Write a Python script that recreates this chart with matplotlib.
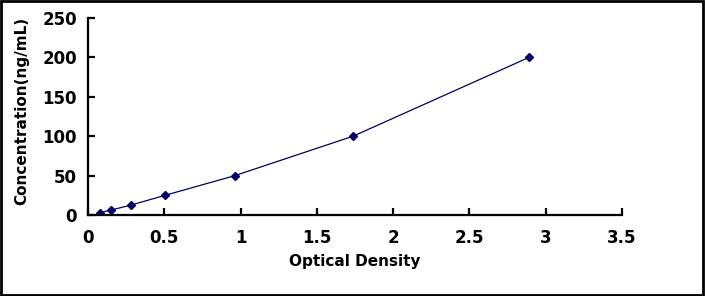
import matplotlib.pyplot as plt
from matplotlib.patches import Rectangle

# standard curve data
od = [0.079, 0.15, 0.28, 0.505, 0.963, 1.737, 2.89]
conc = [3.125, 6.25, 12.5, 25, 50, 100, 200]

xticks = [0, 0.5, 1, 1.5, 2, 2.5, 3, 3.5]
xticklabels = ["0", "0.5", "1", "1.5", "2", "2.5", "3", "3.5"]
yticks = [0, 50, 100, 150, 200, 250]

plt.rcParams['font.family'] = ['DejaVu Sans']
plt.rcParams['font.weight'] = 'bold'

fig = plt.figure(figsize=(7.05, 2.96), dpi=100)
ax = fig.add_axes([0.1248, 0.2736, 0.7575, 0.6655])

ax.plot(od, conc, color='#000066', linewidth=0.9, marker='D', markersize=4.5,
        markerfacecolor='#000066', markeredgecolor='#000066')

ax.set_xlim(0, 3.5)
ax.set_ylim(0, 250)
ax.set_xticks(xticks)
ax.set_xticklabels(xticklabels)
ax.set_yticks(yticks)

for s in ['top', 'right']:
    ax.spines[s].set_visible(False)
for s in ['left', 'bottom']:
    ax.spines[s].set_linewidth(1.6)
    ax.spines[s].set_color('black')

ax.tick_params(direction='in', length=5, width=1.6, labelsize=12)
ax.tick_params(axis='y', pad=8)
ax.tick_params(axis='x', pad=10)
for lab in ax.get_xticklabels() + ax.get_yticklabels():
    lab.set_fontweight('bold')

ax.set_xlabel("Optical Density", fontsize=11, fontweight='bold')
ax.set_ylabel("Concentration(ng/mL)", fontsize=11, fontweight='bold')
ax.xaxis.set_label_coords(0.5, -0.2)
ax.yaxis.set_label_coords(-0.11, 0.53)

# black frame round the whole picture
fig.patches.append(Rectangle((0.002, 0.003), 0.995, 0.993, transform=fig.transFigure,
                             fill=False, edgecolor='black', linewidth=2))

plt.savefig("out.png", dpi=100)
